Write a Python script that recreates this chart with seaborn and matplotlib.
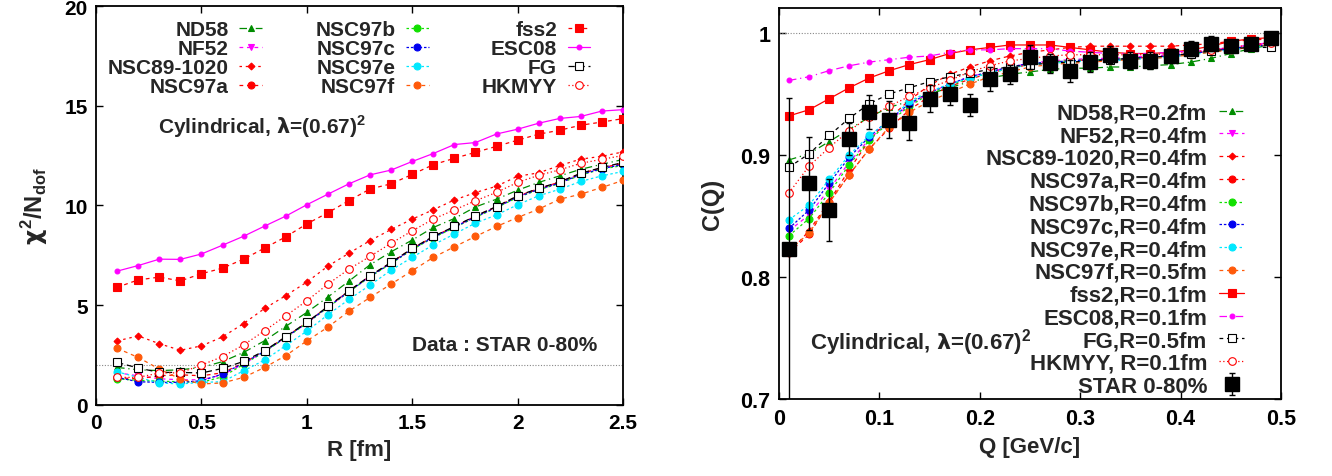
import numpy as np
import pandas as pd
import matplotlib
matplotlib.use('agg')
import seaborn as sns
import matplotlib.pyplot as plt
from matplotlib.ticker import FormatStrFormatter

# left panel : chi2/Ndof vs R
R = [0.1, 0.2, 0.3, 0.4, 0.5, 0.6, 0.7, 0.8, 0.9, 1.0, 1.1, 1.2, 1.3,
     1.4, 1.5, 1.6, 1.7, 1.8, 1.9, 2.0, 2.1, 2.2, 2.3, 2.4, 2.5]

chi_nd58 = [1.87, 1.75, 1.71, 1.75, 1.87, 2.16, 2.62, 3.21, 3.93, 4.63, 5.4, 6.2, 7.02,
            7.67, 8.26, 8.89, 9.34, 9.92, 10.31, 10.76, 11.15, 11.48, 11.81, 12.06, 12.3]
chi_nf52 = [1.6, 1.45, 1.3, 1.25, 1.25, 1.5, 2.05, 2.66, 3.38, 4.1, 4.9, 5.68, 6.44,
            7.12, 7.8, 8.42, 8.92, 9.44, 9.92, 10.44, 10.82, 11.15, 11.57, 11.86, 12.1]
chi_nsc89 = [3.2, 3.45, 3.06, 2.73, 2.95, 3.4, 4.07, 4.83, 5.47, 6.15, 6.95, 7.6, 8.23,
             8.79, 9.31, 9.78, 10.27, 10.64, 10.96, 11.46, 11.63, 12.0, 12.32, 12.46, 12.68]
chi_nsc97a = [1.35, 1.3, 1.45, 1.5, 1.45, 1.6, 2.1, 2.7, 3.4, 4.12, 4.92, 5.7, 6.46,
              7.13, 7.83, 8.43, 8.93, 9.46, 9.93, 10.46, 10.84, 11.17, 11.6, 11.88, 12.12]
chi_nsc97b = [1.3, 1.22, 1.18, 1.15, 1.12, 1.4, 2.02, 2.66, 3.36, 4.08, 4.88, 5.66, 6.42,
              7.08, 7.78, 8.38, 8.88, 9.4, 9.88, 10.4, 10.78, 11.1, 11.52, 11.82, 12.0]
chi_nsc97c = [1.37, 1.15, 1.12, 1.12, 1.2, 1.54, 2.09, 2.68, 3.38, 4.1, 4.9, 5.68, 6.44,
              7.1, 7.8, 8.4, 8.9, 9.42, 9.9, 10.42, 10.8, 11.12, 11.55, 11.84, 12.05]
chi_nsc97e = [1.65, 1.37, 1.09, 1.04, 1.12, 1.15, 1.7, 2.24, 2.96, 3.69, 4.51, 5.28, 6.0,
              6.75, 7.39, 8.02, 8.56, 9.11, 9.52, 10.03, 10.48, 10.81, 11.2, 11.48, 11.7]
chi_nsc97f = [2.83, 2.37, 1.79, 1.29, 1.04, 1.09, 1.37, 1.87, 2.46, 3.2, 3.89, 4.69, 5.38,
              6.05, 6.72, 7.39, 7.92, 8.44, 8.94, 9.39, 9.81, 10.31, 10.56, 10.9, 11.25]
chi_fss2 = [5.89, 6.26, 6.4, 6.21, 6.57, 6.85, 7.3, 7.86, 8.42, 9.07, 9.63, 10.24, 10.82,
            11.08, 11.55, 12.04, 12.36, 12.66, 12.96, 13.27, 13.57, 13.77, 14.02, 14.18, 14.35]
chi_esc08 = [6.7, 6.98, 7.3, 7.29, 7.56, 8.0, 8.45, 8.96, 9.46, 10.03, 10.56, 11.08, 11.53,
             11.77, 12.2, 12.6, 13.05, 13.15, 13.58, 13.82, 14.12, 14.36, 14.46, 14.73, 14.8]
chi_fg = [2.12, 1.84, 1.62, 1.62, 1.59, 1.82, 2.17, 2.71, 3.41, 4.13, 4.93, 5.71, 6.47,
          7.14, 7.84, 8.44, 8.94, 9.47, 9.94, 10.48, 10.85, 11.18, 11.61, 11.9, 12.15]
chi_hkmyy = [1.37, 1.37, 1.59, 1.6, 1.99, 2.41, 3.0, 3.71, 4.46, 5.21, 6.05, 6.8, 7.44,
             8.1, 8.72, 9.31, 9.77, 10.23, 10.65, 11.15, 11.51, 11.78, 12.11, 12.31, 12.5]

# right panel : C(Q) vs Q
Q = [0.01, 0.03, 0.05, 0.07, 0.09, 0.11, 0.13, 0.15, 0.17, 0.19, 0.21, 0.23, 0.25,
     0.27, 0.29, 0.31, 0.33, 0.35, 0.37, 0.39, 0.41, 0.43, 0.45, 0.47, 0.49]

cq_nd58 = [0.896, 0.901, 0.911, 0.921, 0.931, 0.939, 0.944, 0.950, 0.955, 0.960, 0.963, 0.966, 0.968,
           0.970, 0.971, 0.971, 0.972, 0.972, 0.973, 0.974, 0.976, 0.979, 0.983, 0.987, 0.990]
cq_nf52 = [0.838, 0.851, 0.872, 0.894, 0.913, 0.928, 0.941, 0.951, 0.958, 0.964, 0.968, 0.972, 0.975,
           0.977, 0.978, 0.979, 0.979, 0.980, 0.981, 0.982, 0.984, 0.986, 0.988, 0.990, 0.991]
cq_nsc89 = [0.820, 0.838, 0.862, 0.888, 0.912, 0.930, 0.945, 0.957, 0.966, 0.972, 0.977, 0.981, 0.984,
            0.986, 0.988, 0.989, 0.989, 0.989, 0.989, 0.989, 0.990, 0.991, 0.993, 0.994, 0.995]
cq_nsc97a = [0.820, 0.835, 0.861, 0.884, 0.905, 0.922, 0.937, 0.948, 0.956, 0.962, 0.967, 0.971, 0.974,
             0.976, 0.977, 0.978, 0.978, 0.979, 0.980, 0.981, 0.983, 0.985, 0.987, 0.989, 0.991]
cq_nsc97b = [0.834, 0.848, 0.869, 0.892, 0.912, 0.927, 0.940, 0.950, 0.957, 0.963, 0.967, 0.971, 0.974,
             0.976, 0.977, 0.978, 0.978, 0.979, 0.980, 0.981, 0.983, 0.985, 0.987, 0.989, 0.990]
cq_nsc97c = [0.840, 0.855, 0.877, 0.898, 0.915, 0.929, 0.942, 0.951, 0.958, 0.964, 0.968, 0.972, 0.975,
             0.976, 0.977, 0.978, 0.978, 0.979, 0.980, 0.981, 0.983, 0.985, 0.987, 0.989, 0.990]
cq_nsc97e = [0.847, 0.859, 0.880, 0.900, 0.916, 0.928, 0.944, 0.952, 0.958, 0.963, 0.967, 0.971, 0.974,
             0.975, 0.976, 0.977, 0.977, 0.978, 0.979, 0.980, 0.982, 0.984, 0.986, 0.988, 0.989]
cq_nsc97f = [0.822, 0.836, 0.861, 0.884, 0.905, 0.923, 0.935, 0.944, 0.951, 0.958, 0.964, 0.968, 0.972,
             0.974, 0.975, 0.976, 0.977, 0.978, 0.979, 0.980, 0.982, 0.984, 0.986, 0.988, 0.990]
cq_fss2 = [0.932, 0.937, 0.946, 0.955, 0.963, 0.969, 0.974, 0.978, 0.983, 0.986, 0.988, 0.990, 0.990,
           0.990, 0.988, 0.986, 0.984, 0.983, 0.983, 0.984, 0.986, 0.989, 0.993, 0.995, 0.996]
cq_esc08 = [0.961, 0.964, 0.969, 0.973, 0.976, 0.978, 0.980, 0.981, 0.984, 0.986, 0.986, 0.987, 0.987,
            0.987, 0.985, 0.984, 0.983, 0.983, 0.983, 0.984, 0.985, 0.986, 0.988, 0.990, 0.992]
cq_fg = [0.890, 0.901, 0.916, 0.930, 0.942, 0.950, 0.955, 0.960, 0.964, 0.967, 0.970, 0.972, 0.974,
         0.975, 0.976, 0.977, 0.978, 0.979, 0.980, 0.981, 0.983, 0.985, 0.987, 0.988, 0.988]
cq_hkmyy = [0.869, 0.891, 0.906, 0.920, 0.931, 0.940, 0.948, 0.955, 0.961, 0.968, 0.973, 0.977, 0.979,
            0.981, 0.982, 0.982, 0.982, 0.982, 0.982, 0.983, 0.984, 0.986, 0.988, 0.990, 0.992]
star_c = [0.823, 0.877, 0.855, 0.913, 0.935, 0.929, 0.926, 0.946, 0.950, 0.941, 0.962, 0.966, 0.980,
          0.975, 0.969, 0.976, 0.982, 0.977, 0.977, 0.981, 0.987, 0.991, 0.989, 0.991, 0.996]
star_err = [0.124, 0.038, 0.025, 0.013, 0.014, 0.015, 0.014, 0.011, 0.009, 0.009, 0.010, 0.008, 0.010,
            0.008, 0.009, 0.008, 0.007, 0.007, 0.007, 0.006, 0.006, 0.006, 0.005, 0.005, 0.005]

models = ['ND58', 'NF52', 'NSC89-1020', 'NSC97a', 'NSC97b', 'NSC97c',
          'NSC97e', 'NSC97f', 'fss2', 'ESC08', 'FG', 'HKMYY']
radii = ['0.2', '0.4', '0.4', '0.4', '0.4', '0.4', '0.4', '0.5', '0.1', '0.1', '0.5', '0.1']
chi_all = [chi_nd58, chi_nf52, chi_nsc89, chi_nsc97a, chi_nsc97b, chi_nsc97c,
           chi_nsc97e, chi_nsc97f, chi_fss2, chi_esc08, chi_fg, chi_hkmyy]
cq_all = [cq_nd58, cq_nf52, cq_nsc89, cq_nsc97a, cq_nsc97b, cq_nsc97c,
          cq_nsc97e, cq_nsc97f, cq_fss2, cq_esc08, cq_fg, cq_hkmyy]

# (color, marker, size, filled, left dash, right dash)
STYLE = {
    'ND58':       ('#008c00', '^', 5, True, (0, (6, 3, 1, 3)), (0, (6, 3, 1, 3))),
    'NF52':       ('#ff00ff', 'v', 5, True, (0, (3, 3)), (0, (3, 3))),
    'NSC89-1020': ('#ff0000', 'D', 3.5, True, (0, (2, 3)), (0, (3, 3))),
    'NSC97a':     ('#ff0000', 'o', 5, True, (0, (3, 3)), (0, (3, 3))),
    'NSC97b':     ('#11e000', 'o', 5, True, (0, (2, 2)), (0, (2, 2))),
    'NSC97c':     ('#0000f0', 'o', 5, True, (0, (2, 1.5)), (0, (2, 1.5))),
    'NSC97e':     ('#00e8ff', 'o', 5, True, (0, (2, 2)), (0, (2, 2))),
    'NSC97f':     ('#ff5a0a', 'o', 5, True, (0, (3, 3)), (0, (3, 3))),
    'fss2':       ('#ff0000', 's', 5.5, True, (0, (3, 3)), '-'),
    'ESC08':      ('#ff00ff', 'o', 3.5, True, '-', (0, (6, 3, 1, 3))),
    'FG':         ('#000000', 's', 5.5, False, (0, (5, 3)), (0, (3, 3))),
    'HKMYY':      ('#ff0000', 'o', 5.5, False, (0, (1, 2)), (0, (1, 2))),
}

sns.set_theme(style='ticks')
plt.rcParams['font.family'] = ['Liberation Sans', 'DejaVu Sans']
plt.rcParams['font.weight'] = 'bold'
plt.rcParams['axes.labelweight'] = 'bold'
plt.rcParams['mathtext.fontset'] = 'custom'
plt.rcParams['mathtext.rm'] = 'Liberation Sans:bold'
plt.rcParams['mathtext.bf'] = 'Liberation Sans:bold'
plt.rcParams['mathtext.it'] = 'DejaVu Sans'
plt.rcParams['xtick.direction'] = 'in'
plt.rcParams['ytick.direction'] = 'in'


def draw(ax, x, y, name, col, label):
    color, marker, ms, filled, ls_left, ls_right = STYLE[name]
    ls = ls_left if col == 0 else ls_right
    sns.lineplot(x=x, y=y, ax=ax, color=color, marker=marker, markersize=ms,
                 linestyle=ls, linewidth=0.9, markeredgewidth=0.8,
                 markerfacecolor=color if filled else 'white',
                 markeredgecolor=color, label=label, sort=False, zorder=3)


def style_axes(ax, size):
    for sp in ax.spines.values():
        sp.set_linewidth(1.3)
        sp.set_color('black')
    ax.tick_params(axis='both', which='both', top=True, right=True, length=5,
                   width=1.0, labelsize=size, pad=6, colors='black')
    for t in ax.get_xticklabels() + ax.get_yticklabels():
        t.set_fontweight('bold')


fig = plt.figure(figsize=(13.32, 4.77), dpi=100)
ax0 = fig.add_axes([0.0721, 0.1495, 0.3956, 0.8358])
ax1 = fig.add_axes([0.5848, 0.1604, 0.3769, 0.8201])

for i, name in enumerate(models):
    draw(ax0, R, chi_all[i], name, 0, name)
ax0.axhline(2, color='#888888', lw=0.8, ls=(0, (1, 1.5)), zorder=1)
ax0.set_xlim(0, 2.5)
ax0.set_ylim(0, 20)
ax0.set_xticks([0, 0.5, 1, 1.5, 2, 2.5])
ax0.set_yticks([0, 5, 10, 15, 20])
ax0.xaxis.set_major_formatter(FormatStrFormatter('%g'))
ax0.set_xlabel('R [fm]', fontsize=16, labelpad=5)
ax0.set_ylabel(r'$\chi^{\mathbf{2}}$/N$_{\mathbf{dof}}$', fontsize=17, labelpad=10)
style_axes(ax0, 15)
ax0.text(0.118, 0.70, r'Cylindrical, $\lambda$=(0.67)$^{\mathbf{2}}$', transform=ax0.transAxes,
         fontsize=15, fontweight='bold', ha='left', va='center')
ax0.text(0.951, 0.152, 'Data : STAR 0-80%', transform=ax0.transAxes,
         fontsize=15, fontweight='bold', ha='right', va='center')
ax0.legend(loc='upper right', bbox_to_anchor=(0.958, 0.99), ncol=3, frameon=False,
           markerfirst=False, fontsize=15, handlelength=1.1, handletextpad=0.5,
           columnspacing=2.55, labelspacing=0.0, borderpad=0, numpoints=1)

for i, name in enumerate(models):
    draw(ax1, Q, cq_all[i], name, 1, '%s,R=%sfm' % (name, radii[i]) if name != 'HKMYY'
         else 'HKMYY, R=%sfm' % radii[i])
ax1.errorbar(Q, star_c, yerr=star_err, fmt='s', color='black', markersize=9.5,
             elinewidth=1.0, capsize=2, capthick=1.0, label='STAR 0-80%', zorder=5)
ax1.axhline(1, color='#888888', lw=0.8, ls=(0, (1, 1.5)), zorder=1)
ax1.set_xlim(0, 0.5)
ax1.set_ylim(0.7, 1.02)
ax1.set_xticks([0, 0.1, 0.2, 0.3, 0.4, 0.5])
ax1.set_yticks([0.7, 0.8, 0.9, 1.0])
ax1.xaxis.set_major_formatter(FormatStrFormatter('%g'))
ax1.yaxis.set_major_formatter(FormatStrFormatter('%g'))
ax1.set_xlabel('Q [GeV/c]', fontsize=16, labelpad=5)
ax1.set_ylabel('C(Q)', fontsize=17, labelpad=12)
style_axes(ax1, 15.5)
ax1.text(0.062, 0.148, r'Cylindrical, $\lambda$=(0.67)$^{\mathbf{2}}$', transform=ax1.transAxes,
         fontsize=16, fontweight='bold', ha='left', va='center')
ax1.legend(loc='upper right', bbox_to_anchor=(0.948, 0.788), ncol=1, frameon=False,
           markerfirst=False, fontsize=16, handlelength=1.1, handletextpad=0.55,
           labelspacing=0.08, borderpad=0, numpoints=1)

fig.savefig('out.png', dpi=100)
